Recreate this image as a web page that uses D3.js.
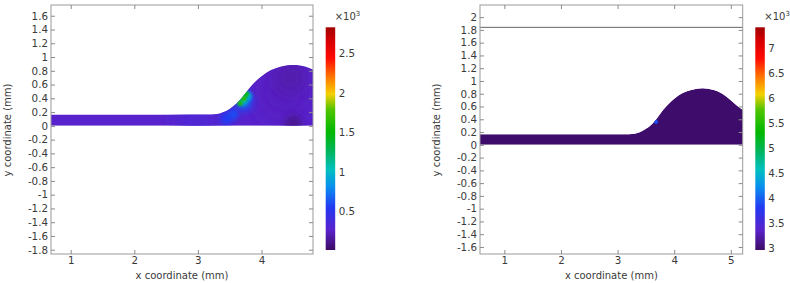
<!DOCTYPE html>
<html>
<head>
<meta charset="utf-8">
<script src="https://cdn.jsdelivr.net/npm/d3@7"></script>
<style>
  body { margin: 0; background: #fff; }
  text { font-family: "DejaVu Sans", sans-serif; fill: #3a3a3a; }
</style>
</head>
<body>
<div class="container"></div>
<script>
const WIDTH = 790;
const HEIGHT = 283;

// top boundary of the droplet / film (mm)
const profileX = [0.4, 3.2, 3.3, 3.4, 3.5, 3.6, 3.7, 3.8, 3.9, 4.0, 4.15, 4.3, 4.5, 4.7, 4.85, 5.0, 5.1, 5.3];
const profileY = [0.165, 0.165, 0.172, 0.2, 0.25, 0.32, 0.42, 0.54, 0.64, 0.72, 0.81, 0.86, 0.885, 0.86, 0.8, 0.7, 0.62, 0.5];

// colormap (Rainbow), position 0..1
const cmapPos = [0, 0.09, 0.19, 0.28, 0.36, 0.45, 0.53, 0.63, 0.7, 0.78, 0.86, 0.94, 1];
const cmapCol = ["#3c0b63", "#5a22cc", "#2338f2", "#0a8cf0", "#00c0c0", "#00b455", "#00b800", "#50c400",
                 "#f6d000", "#ff7200", "#ff0a00", "#d60000", "#a00000"];

// left panel
const leftXTicks = [1, 2, 3, 4];
const leftYTicks = [1.6, 1.4, 1.2, 1, 0.8, 0.6, 0.4, 0.2, 0, -0.2, -0.4, -0.6, -0.8, -1, -1.2, -1.4, -1.6, -1.8];
const leftCbTicks = [0.5, 1, 1.5, 2, 2.5];
const leftRange = [0.005, 2.83];
const leftBase = 0.27;
// hot spots: x, y (mm), radius (mm), value (x10^3)
const leftSpotX = [3.0, 4.35, 4.45, 4.5, 3.45, 3.56, 3.72, 3.71, 3.78, 3.66, 3.72, 3.76];
const leftSpotY = [0.08, 0.5, 0.7, 0.02, 0.11, 0.17, 0.36, 0.37, 0.43, 0.33, 0.4, 0.46];
const leftSpotR = [0.35, 0.45, 0.25, 0.14, 0.1, 0.08, 0.15, 0.08, 0.07, 0.04, 0.045, 0.04];
const leftSpotV = [0.31, 0.23, 0.19, 0.12, 0.55, 0.6, 0.6, 1.0, 0.9, 1.6, 1.65, 1.55];

// right panel
const rightXTicks = [1, 2, 3, 4, 5];
const rightYTicks = [2, 1.8, 1.6, 1.4, 1.2, 1, 0.8, 0.6, 0.4, 0.2, 0, -0.2, -0.4, -0.6, -0.8, -1, -1.2, -1.4, -1.6];
const rightCbTicks = [3, 3.5, 4, 4.5, 5, 5.5, 6, 6.5, 7];
const rightRange = [2.97, 7.41];
const rightBase = 3.0;
const rightLineY = 1.84;
const rightSpotX = [3.68];
const rightSpotY = [0.36];
const rightSpotR = [0.035];
const rightSpotV = [3.9];

var fmt = function(d){ return String(+d.toFixed(1)); };

var rainbow = d3.scaleLinear().domain(cmapPos).range(cmapCol).interpolate(d3.interpolateRgb);

var svg = d3.select('.container').append('svg')
    .attr('width', WIDTH)
    .attr('height', HEIGHT);

var defs = svg.append('defs');

var drawPanel = function(p){
    var x = d3.scaleLinear().domain(p.xDomain).range([p.left, p.right]);
    var y = d3.scaleLinear().domain(p.yDomain).range([p.bottom, p.top]);
    var color = function(v){ return rainbow((v - p.range[0]) / (p.range[1] - p.range[0])); };

    var g = svg.append('g');

    defs.append('clipPath').attr('id', 'clip' + p.id)
        .append('rect')
        .attr('x', p.left).attr('y', p.top)
        .attr('width', p.right - p.left).attr('height', p.bottom - p.top);

    var pts = profileX.map(function(d, i){ return [d, profileY[i]]; });
    var area = d3.area()
        .x(function(d){ return x(d[0]); })
        .y0(y(0))
        .y1(function(d){ return y(d[1]); })
        .curve(d3.curveMonotoneX);

    defs.append('clipPath').attr('id', 'shape' + p.id)
        .append('path').attr('d', area(pts));

    var field = g.append('g').attr('clip-path', 'url(#clip' + p.id + ')')
        .append('g').attr('clip-path', 'url(#shape' + p.id + ')');

    field.append('path').attr('d', area(pts)).attr('fill', color(p.base));

    var spots = p.spotX.map(function(d, i){
        return {x: d, y: p.spotY[i], r: p.spotR[i], v: p.spotV[i], i: i};
    });

    spots.forEach(function(d){
        defs.append('filter').attr('id', 'blur' + p.id + d.i)
            .attr('x', '-100%').attr('y', '-100%').attr('width', '300%').attr('height', '300%')
            .append('feGaussianBlur').attr('stdDeviation', (x(d.x + d.r) - x(d.x)) * 0.4);
    });

    field.selectAll('ellipse').data(spots).enter().append('ellipse')
        .attr('cx', function(d){ return x(d.x); })
        .attr('cy', function(d){ return y(d.y); })
        .attr('rx', function(d){ return x(d.x + d.r) - x(d.x); })
        .attr('ry', function(d){ return y(d.y) - y(d.y + d.r); })
        .attr('fill', function(d){ return color(d.v); })
        .attr('filter', function(d){ return 'url(#blur' + p.id + d.i + ')'; });

    if (p.lineY !== undefined) {
        g.append('line')
            .attr('x1', p.left).attr('x2', p.right)
            .attr('y1', y(p.lineY)).attr('y2', y(p.lineY))
            .attr('stroke', '#666').attr('stroke-width', 1);
    }

    // frame
    g.append('rect')
        .attr('x', p.left).attr('y', p.top)
        .attr('width', p.right - p.left).attr('height', p.bottom - p.top)
        .attr('fill', 'none').attr('stroke', '#9a9a9a').attr('stroke-width', 1);

    var tickStyle = function(sel){
        sel.select('.domain').remove();
        sel.selectAll('.tick line').attr('stroke', '#8a8a8a');
        sel.selectAll('.tick text').style('font-size', '10.3px').attr('fill', '#3a3a3a');
    };

    g.append('g').attr('transform', 'translate(0,' + p.bottom + ')')
        .call(d3.axisBottom(x).tickValues(p.xTicks).tickFormat(fmt).tickSizeInner(-4).tickSizeOuter(0).tickPadding(3))
        .call(tickStyle);
    g.append('g').attr('transform', 'translate(0,' + p.top + ')')
        .call(d3.axisTop(x).tickValues(p.xTicks).tickFormat('').tickSizeInner(-4).tickSizeOuter(0))
        .call(tickStyle);
    g.append('g').attr('transform', 'translate(' + p.left + ',0)')
        .call(d3.axisLeft(y).tickValues(p.yTicks).tickFormat(fmt).tickSizeInner(-4).tickSizeOuter(0).tickPadding(3))
        .call(tickStyle);
    g.append('g').attr('transform', 'translate(' + p.right + ',0)')
        .call(d3.axisRight(y).tickValues(p.yTicks).tickFormat('').tickSizeInner(-4).tickSizeOuter(0))
        .call(tickStyle);

    g.append('text')
        .attr('x', (p.left + p.right) / 2).attr('y', 279)
        .attr('text-anchor', 'middle').style('font-size', '10px')
        .text('x coordinate (mm)');
    g.append('text')
        .attr('transform', 'translate(' + (p.left - 40) + ',' + 130 + ') rotate(-90)')
        .attr('text-anchor', 'middle').style('font-size', '10px')
        .text('y coordinate (mm)');

    // colorbar
    var cb = d3.scaleLinear().domain(p.range).range([250, 27.3]);
    var grad = defs.append('linearGradient').attr('id', 'grad' + p.id)
        .attr('x1', 0).attr('y1', 1).attr('x2', 0).attr('y2', 0);
    grad.selectAll('stop').data(cmapPos).enter().append('stop')
        .attr('offset', function(d){ return d; })
        .attr('stop-color', function(d, i){ return cmapCol[i]; });

    g.append('rect')
        .attr('x', p.cbX).attr('y', cb(p.range[1]))
        .attr('width', 9.5).attr('height', cb(p.range[0]) - cb(p.range[1]))
        .attr('fill', 'url(#grad' + p.id + ')');

    g.selectAll('.cblabel').data(p.cbTicks).enter().append('text')
        .attr('class', 'cblabel')
        .attr('x', p.cbX + 13).attr('y', function(d){ return cb(d) + 4; })
        .style('font-size', '10.3px')
        .text(fmt);

    var t = g.append('text').attr('x', p.cbX + 9).attr('y', 20).style('font-size', '10px');
    t.append('tspan').text('\u00d710');
    t.append('tspan').attr('dy', -4).style('font-size', '7px').text('3');
};

var loadChart = function(){
    drawPanel({
        id: 'L', left: 51, right: 313, top: 5, bottom: 254,
        xDomain: [0.69, 4.81], yDomain: [-1.862, 1.756],
        xTicks: leftXTicks, yTicks: leftYTicks, cbTicks: leftCbTicks,
        range: leftRange, base: leftBase,
        spotX: leftSpotX, spotY: leftSpotY, spotR: leftSpotR, spotV: leftSpotV,
        cbX: 325.7
    });
    drawPanel({
        id: 'R', left: 480, right: 742.7, top: 5, bottom: 254,
        xDomain: [0.57, 5.21], yDomain: [-1.71, 2.19],
        xTicks: rightXTicks, yTicks: rightYTicks, cbTicks: rightCbTicks,
        range: rightRange, base: rightBase,
        spotX: rightSpotX, spotY: rightSpotY, spotR: rightSpotR, spotV: rightSpotV,
        lineY: rightLineY, cbX: 755.3
    });
};

window.onload = loadChart;
</script>
</body>
</html>
